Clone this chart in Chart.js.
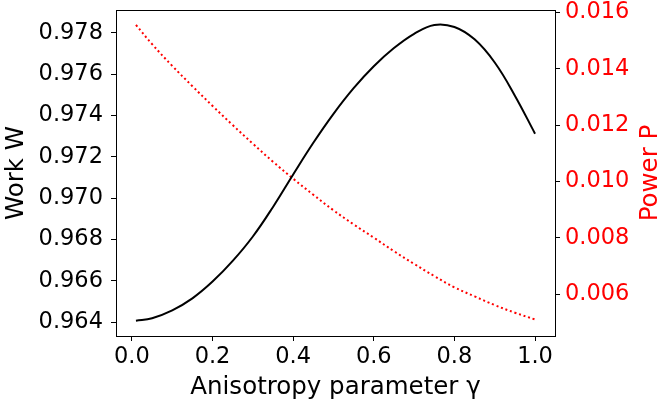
<!DOCTYPE html>
<html>
<head>
<meta charset="utf-8">
<script src="https://cdn.jsdelivr.net/npm/chart.js@4/dist/chart.umd.min.js"></script>
<style>
html,body{margin:0;padding:0;background:#fff;}
#wrap{width:659px;height:408px;position:relative;}
</style>
</head>
<body>
<div id="wrap"><canvas id="c" width="659" height="408"></canvas></div>
<script>
// Anisotropy parameter gamma
const gamma = [0.01,0.05,0.10,0.15,0.20,0.25,0.30,0.35,0.40,0.45,0.50,0.55,0.60,0.65,0.70,0.75,0.80,0.85,0.90,0.95,1.00];
// Work W (left axis)
const workW = [0.96408,0.96420,0.96458,0.96516,0.96597,0.96697,0.96815,0.96958,0.97115,0.97268,0.97408,0.97532,0.97638,0.97726,0.97795,0.97838,0.97828,0.97768,0.97656,0.97496,0.97312];
// Power P (right axis)
const powerP = [0.01555,0.01487,0.01410,0.01338,0.01268,0.01200,0.01134,0.01070,0.01010,0.00953,0.00898,0.00848,0.00801,0.00753,0.00708,0.00665,0.00625,0.00593,0.00562,0.00535,0.00511];
// Tick labels
const xTicks = [0.0,0.2,0.4,0.6,0.8,1.0];
const wTicks = [0.964,0.966,0.968,0.970,0.972,0.974,0.976,0.978];
const pTicks = [0.006,0.008,0.010,0.012,0.014,0.016];

const FONT = "DejaVu Sans";
const FS = 22.5;   // tick labels
const TFS = 24.5;  // axis titles

const framePlugin = {
  id:'frame',
  afterDraw(chart){
    const {ctx, chartArea:a} = chart;
    ctx.save();
    ctx.strokeStyle = '#000';
    ctx.lineWidth = 1;
    ctx.beginPath();
    ctx.moveTo(a.left, a.top + 0.5);
    ctx.lineTo(a.right, a.top + 0.5);
    ctx.stroke();
    // right axis title, reading bottom-to-top as in the reference
    ctx.fillStyle = 'red';
    ctx.font = TFS + 'px "' + FONT + '"';
    ctx.textAlign = 'center';
    ctx.textBaseline = 'alphabetic';
    ctx.translate(657, (a.top + a.bottom)/2);
    ctx.rotate(-Math.PI/2);
    ctx.fillText('Power P', 0, 0);
    ctx.restore();
  }
};

function fixBox(w, h){
  return function(scale){
    if (w !== null) scale.width = w;
    if (h !== null) scale.height = h;
    scale.paddingTop = 0; scale.paddingBottom = 0;
    scale.paddingLeft = 0; scale.paddingRight = 0;
  };
}

new Chart(document.getElementById('c'), {
  type:'line',
  data:{
    datasets:[
      {
        label:'Work W',
        data: gamma.map((g,i)=>({x:g, y:workW[i]})),
        yAxisID:'y',
        borderColor:'#000',
        borderWidth:2,
        pointRadius:0,
        fill:false,
        tension:0.4
      },
      {
        label:'Power P',
        data: gamma.map((g,i)=>({x:g, y:powerP[i]})),
        yAxisID:'y1',
        borderColor:'#ff0000',
        borderWidth:2,
        borderDash:[2,2.8],
        pointRadius:0,
        fill:false,
        tension:0.4
      }
    ]
  },
  options:{
    responsive:false,
    animation:false,
    devicePixelRatio:1,
    layout:{padding:{top:10,left:0,right:0,bottom:0}},
    plugins:{legend:{display:false}, tooltip:{enabled:false}},
    scales:{
      x:{
        type:'linear',
        min:-0.0395, max:1.0495,
        afterBuildTicks(s){ s.ticks = xTicks.map(v=>({value:v})); },
        afterFit: fixBox(null, 72),
        grid:{drawOnChartArea:false, drawTicks:true, tickLength:5, color:'#000'},
        border:{display:true, color:'#000', width:1},
        ticks:{color:'#000', font:{family:FONT, size:FS}, padding:3, maxRotation:0,
               callback:(v)=>Number(v).toFixed(1)},
        title:{display:true, text:'Anisotropy parameter γ', color:'#000',
               font:{family:FONT, size:TFS}, padding:{top:0,bottom:6}}
      },
      y:{
        type:'linear', position:'left',
        min:0.96334, max:0.9791,
        afterBuildTicks(s){ s.ticks = wTicks.map(v=>({value:v})); },
        afterFit: fixBox(116, null),
        grid:{drawOnChartArea:false, drawTicks:true, tickLength:5, color:'#000'},
        border:{display:true, color:'#000', width:1},
        ticks:{color:'#000', font:{family:FONT, size:FS}, padding:8,
               callback:(v)=>Number(v).toFixed(3)},
        title:{display:true, text:'Work W', color:'#000',
               font:{family:FONT, size:TFS}, padding:{top:2.3,bottom:0}}
      },
      y1:{
        type:'linear', position:'right',
        min:0.004524, max:0.01608,
        afterBuildTicks(s){ s.ticks = pTicks.map(v=>({value:v})); },
        afterFit: fixBox(104, null),
        grid:{drawOnChartArea:false, drawTicks:true, tickLength:5, color:'#000'},
        border:{display:true, color:'#000', width:1},
        ticks:{color:'red', font:{family:FONT, size:FS}, padding:5,
               callback:(v)=>Number(v).toFixed(3)}
      }
    }
  },
  plugins:[framePlugin]
});
</script>
</body>
</html>
